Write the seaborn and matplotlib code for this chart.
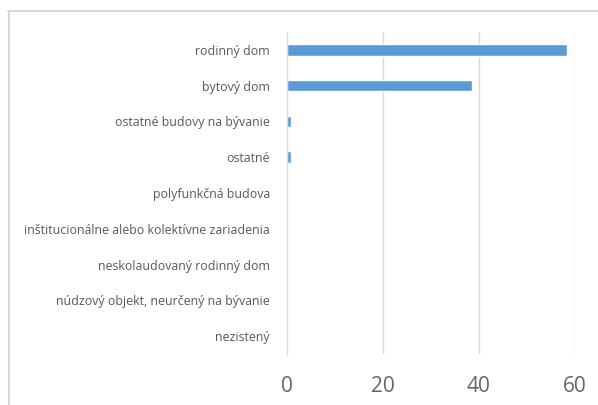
import pandas as pd
import matplotlib
matplotlib.use("Agg")
import matplotlib.pyplot as plt
import seaborn as sns
from matplotlib.lines import Line2D

# data
categories = [
    "rodinný dom",
    "bytový dom",
    "ostatné budovy na bývanie",
    "ostatné",
    "polyfunkčná budova",
    "inštitucionálne alebo kolektívne zariadenia",
    "neskolaudovaný rodinný dom",
    "núdzový objekt, neurčený na bývanie",
    "nezistený",
]
values = [58.5, 38.6, 1.0, 1.0, 0, 0, 0, 0, 0]
x_ticks = [0, 20, 40, 60]

df = pd.DataFrame({"typ": categories, "hodnota": values})

sns.set_style("white")
plt.rcParams["font.family"] = ["Open Sans", "DejaVu Sans"]

fig = plt.figure(figsize=(5.98, 4.05), dpi=100)
ax = fig.add_axes([0.4794, 0.126, 0.4816, 0.795])

sns.barplot(data=df, x="hodnota", y="typ", orient="h", color="#5B9BD5",
            saturation=1, width=0.32, ax=ax)

ax.set_xlim(0, 60)
ax.set_xticks(x_ticks)
ax.set_xlabel("")
ax.set_ylabel("")
ax.grid(axis="x", color="#d9d9d9", linewidth=1)
ax.set_axisbelow(True)
for s in ["top", "right", "bottom"]:
    ax.spines[s].set_visible(False)
ax.spines["left"].set_color("#d9d9d9")
ax.tick_params(axis="y", length=0, pad=12, labelsize=8.9, labelcolor="#595959")
ax.tick_params(axis="x", length=0, pad=16, labelsize=15, labelcolor="#656565")

# light frame of the chart area
fig.add_artist(Line2D([8 / 598, 1], [1 - 11 / 405] * 2, transform=fig.transFigure,
                      color="#d9d9d9", linewidth=1.5))
fig.add_artist(Line2D([9 / 598] * 2, [0, 1 - 11 / 405], transform=fig.transFigure,
                      color="#d9d9d9", linewidth=1.5))

fig.savefig("out.png", dpi=100)
